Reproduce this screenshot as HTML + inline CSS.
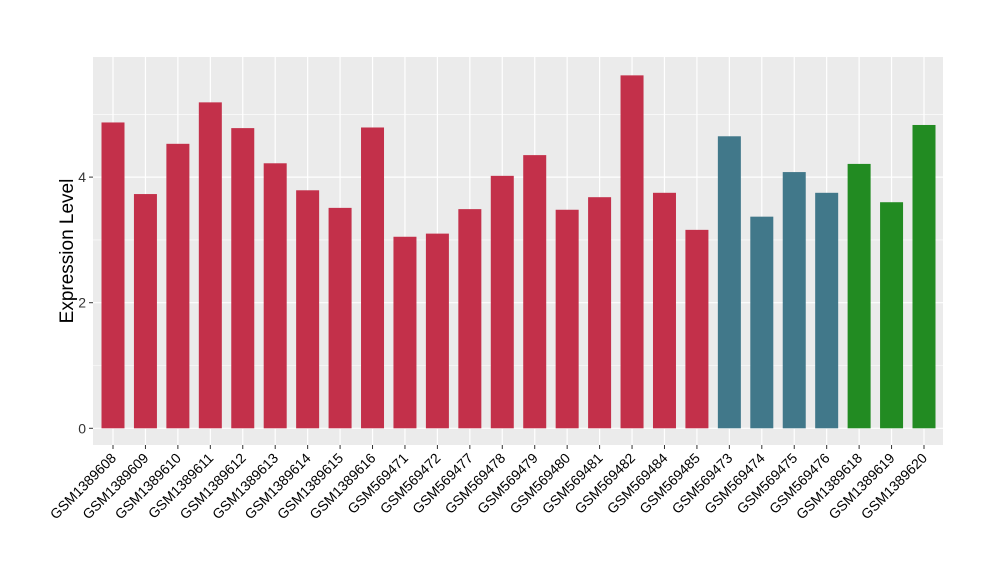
<!DOCTYPE html>
<html><head><meta charset="utf-8"><style>
body{margin:0;background:#fff;font-family:"Liberation Sans",sans-serif}
</style></head><body>
<svg id="chart" width="1000" height="580" xmlns="http://www.w3.org/2000/svg">
<rect x="93" y="57" width="850" height="388" fill="#EBEBEB"/>
<g id="grid"></g><g id="bars"></g><g id="axes"></g>
<text transform="translate(73,251) rotate(-90)" text-anchor="middle" font-size="19" fill="#000">Expression Level</text>
</svg>
<script>
const categories=["GSM1389608","GSM1389609","GSM1389610","GSM1389611","GSM1389612","GSM1389613","GSM1389614","GSM1389615","GSM1389616","GSM569471","GSM569472","GSM569477","GSM569478","GSM569479","GSM569480","GSM569481","GSM569482","GSM569484","GSM569485","GSM569473","GSM569474","GSM569475","GSM569476","GSM1389618","GSM1389619","GSM1389620"];
const values=[4.87,3.73,4.53,5.19,4.78,4.22,3.79,3.51,4.79,3.05,3.10,3.49,4.02,4.35,3.48,3.68,5.62,3.75,3.16,4.65,3.37,4.08,3.75,4.21,3.60,4.83];
const groups=[0,0,0,0,0,0,0,0,0,0,0,0,0,0,0,0,0,0,0,1,1,1,1,2,2,2];
const groupColors=["#C3304A","#41788A","#228B22"];
const yTicks=[0,2,4];
const NS="http://www.w3.org/2000/svg";
const x0=113,step=(924-113)/25,bw=23;
const y=v=>428.3-v*62.8;
const xs=i=>x0+i*step;
function mk(t,a,p){const e=document.createElementNS(NS,t);for(const k in a)e.setAttribute(k,a[k]);p.appendChild(e);return e;}
const grid=document.getElementById('grid'),bars=document.getElementById('bars'),axes=document.getElementById('axes');
[1,3,5].forEach(v=>{const l=mk('line',{x1:93,x2:943,y1:y(v),y2:y(v),stroke:'#fff','stroke-width':0.6},grid);

});
yTicks.forEach(v=>{const l=mk('line',{x1:93,x2:943,y1:y(v),y2:y(v),stroke:'#fff','stroke-width':1.2},grid);


const t=mk('line',{x1:89,x2:93,y1:y(v),y2:y(v),stroke:'#333'},axes);


const lb=mk('text',{x:86,y:y(v)+5,'text-anchor':'end','font-size':14,fill:'#333'},axes);
lb.textContent=v;

});
categories.forEach((c,i)=>{const l=mk('line',{x1:xs(i),x2:xs(i),y1:57,y2:445,stroke:'#fff','stroke-width':1.2},grid);


const r=mk('rect',{x:xs(i)-bw/2,y:y(values[i]),width:bw,height:y(0)-y(values[i]),fill:groupColors[groups[i]]},bars);


const t=mk('line',{x1:xs(i),x2:xs(i),y1:445,y2:449,stroke:'#333'},axes);


const lb=mk('text',{transform:`translate(${xs(i)+4},${459}) rotate(-45)`,'text-anchor':'end','font-size':14,fill:'#000'},axes);
lb.textContent=c;

});
</script>
</body></html>
